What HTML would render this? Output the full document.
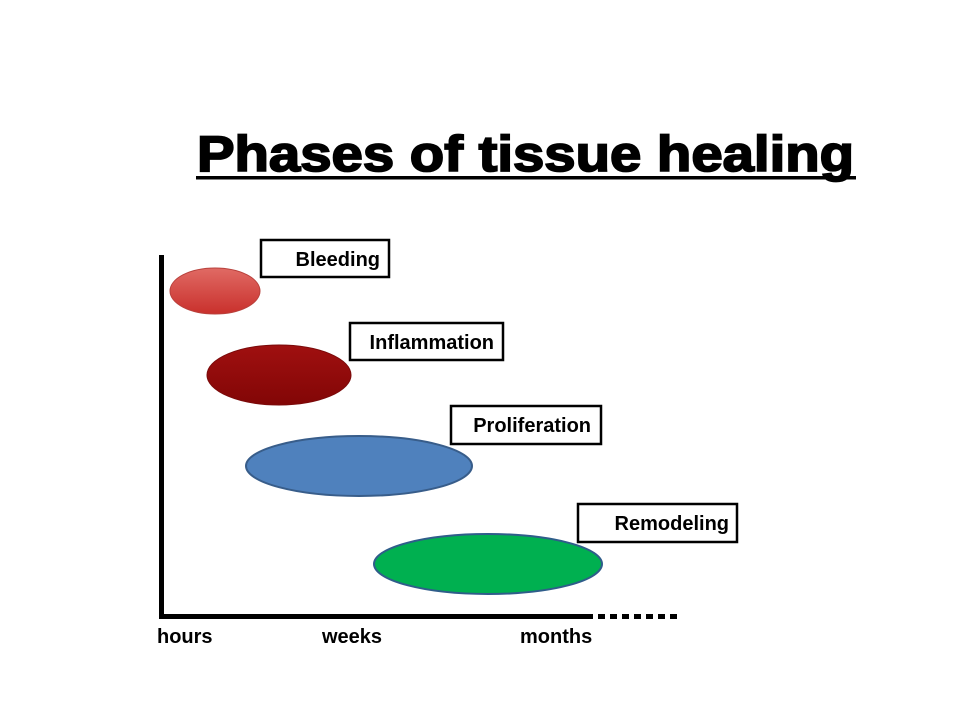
<!DOCTYPE html>
<html><head><meta charset="utf-8"><style>body{margin:0;background:#fff}svg{display:block}</style></head><body>
<svg width="960" height="720" xmlns="http://www.w3.org/2000/svg" font-family="Liberation Sans, sans-serif">
<defs>
<linearGradient id="g1" x1="0" y1="0" x2="0" y2="1"><stop offset="0" stop-color="#e06a64"/><stop offset="1" stop-color="#c9302c"/></linearGradient>
<linearGradient id="g2" x1="0" y1="0" x2="0" y2="1"><stop offset="0" stop-color="#a01010"/><stop offset="1" stop-color="#820606"/></linearGradient>
</defs>
<text x="197" y="171" font-size="50" font-weight="bold" stroke="#000" stroke-width="1.8" textLength="657" lengthAdjust="spacingAndGlyphs">Phases of tissue healing</text>
<rect x="196" y="176" width="660" height="3.5" fill="#000"/>
<rect x="159" y="255" width="5" height="364" fill="#000"/>
<rect x="159" y="614" width="427" height="5" fill="#000"/>
<line x1="586" y1="616.5" x2="678" y2="616.5" stroke="#000" stroke-width="5" stroke-dasharray="7,5"/>
<ellipse cx="215" cy="291" rx="45" ry="23" fill="url(#g1)" stroke="#b8413c" stroke-width="1"/>
<ellipse cx="279" cy="375" rx="72" ry="30" fill="url(#g2)" stroke="#7a0a0a" stroke-width="1"/>
<ellipse cx="359" cy="466" rx="113" ry="30" fill="#4f81bd" stroke="#385d8a" stroke-width="2"/>
<ellipse cx="488" cy="564" rx="114" ry="30" fill="#00b050" stroke="#2f5d8a" stroke-width="2"/>
<g fill="#fff" stroke="#000" stroke-width="2.5">
<rect x="261" y="240" width="128" height="37"/>
<rect x="350" y="323" width="153" height="37"/>
<rect x="451" y="406" width="150" height="38"/>
<rect x="578" y="504" width="159" height="38"/>
</g>
<g font-size="20" font-weight="bold" text-anchor="end">
<text x="380" y="266">Bleeding</text>
<text x="494" y="349">Inflammation</text>
<text x="591" y="432">Proliferation</text>
<text x="729" y="530">Remodeling</text>
</g>
<g font-size="20" font-weight="bold">
<text x="157" y="643">hours</text>
<text x="322" y="643">weeks</text>
<text x="520" y="643">months</text>
</g>
</svg>
</body></html>
